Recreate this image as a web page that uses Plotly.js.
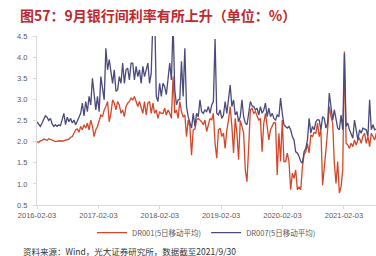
<!DOCTYPE html>
<html>
<head>
<meta charset="utf-8">
<script src="https://cdn.plot.ly/plotly-3.0.1.min.js"></script>
<style>
html,body{margin:0;padding:0;background:#fff;overflow:hidden;}
#chart{width:376px;height:256px;}
</style>
</head>
<body>
<div id="chart"></div>
<script>
// Sampling: one reading every 10 days starting 2016-02-03 (5-day moving averages)
const startDate = '2016-02-03';
const stepDays = 10;

const dr001 = [
 2.00,1.98,2.02,2.03,2.06,2.04,2.03,2.07,2.05,2.02,
 2.01,2.00,2.01,2.02,2.02,2.01,2.02,2.03,2.04,2.06,
 2.10,2.12,2.20,2.28,2.30,2.22,2.36,2.28,2.40,2.32,
 2.44,2.28,2.51,2.36,2.12,2.28,2.36,2.51,2.63,2.59,
 2.75,2.83,2.95,2.47,2.67,2.99,2.91,2.75,2.95,2.87,
 2.67,2.75,2.59,2.83,2.91,2.95,3.03,2.99,3.07,2.95,
 2.83,2.95,2.83,2.67,2.95,2.63,2.91,2.95,2.67,2.91,
 2.67,2.75,2.55,2.71,2.67,2.67,2.79,2.63,2.75,2.67,
 2.55,3.54,2.67,2.75,2.55,2.95,2.71,2.59,2.63,2.12,
 2.51,2.36,1.68,2.28,2.30,2.51,2.55,
 2.51,2.47,2.40,2.51,2.24,2.44,2.55,2.51,2.67,1.96,
 1.61,2.28,2.32,2.12,2.20,1.84,2.28,2.51,2.83,2.36,
 1.73,2.55,2.20,1.57,2.50,2.36,2.20,1.33,1.05,1.88,
 2.75,2.79,2.67,2.71,2.59,2.51,2.55,1.76,2.44,2.67,
 2.36,2.04,2.28,2.36,2.45,2.44,1.21,2.20,1.53,2.51,
 1.53,1.53,1.73,1.53,0.86,1.25,1.13,1.33,0.86,0.93,
 0.86,1.41,1.70,1.76,1.95,1.73,2.16,2.12,2.22,2.20,
 2.44,2.12,2.28,0.97,1.33,1.80,2.28,2.83,2.59,2.44,
 1.49,1.01,1.53,0.78,0.93,1.33,4.13,1.96,1.92,1.84,
 1.96,1.88,2.04,1.92,2.04,2.08,1.96,2.12,2.20,1.96,
 2.12,1.88,2.20,2.12,2.04,2.20
];

const dr007 = [
 2.47,2.40,2.36,2.44,2.51,2.61,2.58,2.50,2.55,2.42,
 2.36,2.40,2.36,2.40,2.38,2.55,2.67,2.40,2.58,2.47,
 2.55,2.44,2.51,2.40,2.50,2.58,2.67,2.91,2.61,2.95,
 2.71,3.07,2.87,3.50,3.11,2.75,3.07,2.71,3.54,3.30,
 2.99,4.21,3.70,3.94,3.62,3.38,3.70,3.19,3.23,3.54,
 3.38,3.86,3.38,3.70,3.74,3.46,3.86,3.86,3.46,3.78,
 3.54,3.70,3.38,3.78,3.54,3.70,3.86,3.38,3.62,4.90,
 5.20,3.07,2.95,3.38,3.07,3.38,3.30,3.11,3.54,3.86,
 3.46,4.80,3.23,2.87,2.99,3.00,3.90,3.07,4.21,2.83,
 2.59,2.44,2.32,2.67,2.36,2.67,2.59,
 2.99,2.71,2.67,2.75,2.71,2.83,2.67,2.87,2.95,4.43,
 2.67,2.63,2.75,2.55,2.63,2.95,2.67,3.03,3.34,2.83,
 2.99,2.63,2.71,2.47,2.59,2.99,2.59,2.44,2.40,2.67,
 2.95,2.85,2.83,2.75,2.79,2.63,2.83,2.67,2.75,2.91,
 2.59,2.79,2.59,2.67,2.55,2.51,2.63,2.59,3.03,2.67,
 2.40,2.36,2.32,2.36,2.28,2.12,2.04,1.76,1.73,1.65,
 1.53,1.49,1.76,1.84,2.04,2.55,2.20,2.36,2.28,2.47,
 2.52,2.51,2.28,2.59,2.55,2.32,2.44,3.15,2.83,2.51,
 2.75,2.51,2.32,2.28,2.63,2.28,4.08,2.36,2.44,2.28,
 2.20,2.08,2.51,2.28,2.04,2.28,2.20,2.32,2.30,2.28,
 2.12,2.99,2.28,2.40,2.28,2.30
];

const tickLabels = ['2016-02-03','2017-02-03','2018-02-03','2019-02-03','2020-02-03','2021-02-03'];
const seriesNames = ['DR001(5日移动平均)','DR007(5日移动平均)'];
const titleText = '图57：9月银行间利率有所上升（单位：%）';
const sourceText = '资料来源：Wind，光大证券研究所，数据截至2021/9/30';

const t0 = Date.UTC(2016,1,3);
const dates = dr001.map((_, i) => new Date(t0 + i*stepDays*86400000).toISOString().slice(0,10));

const traces = [
  {x: dates, y: dr001, name: seriesNames[0], type: 'scatter', mode: 'lines',
   line: {color: '#d4472a', width: 1.3}},
  {x: dates, y: dr007, name: seriesNames[1], type: 'scatter', mode: 'lines',
   line: {color: '#4b4a7c', width: 1.3}}
];

const cjk = '"Noto Sans CJK SC", "Liberation Sans", sans-serif';
const layout = {
  width: 376, height: 256,
  margin: {l: 37, r: 0, t: 36, b: 51, pad: 0},
  paper_bgcolor: '#ffffff', plot_bgcolor: '#ffffff',
  font: {family: cjk, size: 7.5, color: '#595959'},
  title: {
    text: titleText, x: 20/376, xref: 'container', xanchor: 'left',
    y: 1 - 16.5/256, yref: 'container', yanchor: 'middle',
    font: {family: cjk, size: 14, color: '#c0282d', weight: 'bold'}
  },
  xaxis: {
    type: 'date', range: ['2016-02-03', '2021-08-13'],
    tickvals: tickLabels, ticktext: tickLabels,
    showgrid: false, zeroline: false, showline: true, linecolor: '#d9d9d9', linewidth: 1,
    ticks: 'outside', ticklen: 3, tickcolor: '#d9d9d9',
    tickfont: {family: '"Liberation Sans", Arial, sans-serif', size: 7.5, color: '#595959'},
    fixedrange: true
  },
  yaxis: {
    range: [0.5, 4.5], tick0: 0.5, dtick: 0.5, tickformat: '.1f',
    showgrid: false, zeroline: false, showline: true, linecolor: '#d9d9d9', linewidth: 1,
    ticks: 'outside', ticklen: 3, tickcolor: '#d9d9d9', ticklabelstandoff: 4,
    tickfont: {family: '"Liberation Sans", Arial, sans-serif', size: 7.5, color: '#595959'},
    fixedrange: true
  },
  showlegend: true,
  legend: {
    orientation: 'h', x: 0.5, xanchor: 'center', y: (205-232.7)/169, yanchor: 'middle',
    font: {family: cjk, size: 7.5, color: '#595959'}, bgcolor: 'rgba(0,0,0,0)',
    itemwidth: 30
  },
  annotations: [{
    text: sourceText, xref: 'paper', yref: 'paper',
    x: (20.7-37)/339, xanchor: 'left', y: (205-250.5)/169, yanchor: 'middle',
    showarrow: false, font: {family: cjk, size: 8.5, color: '#333333'}
  }]
};

Plotly.newPlot('chart', traces, layout, {staticPlot: true, displayModeBar: false});
</script>
</body>
</html>
